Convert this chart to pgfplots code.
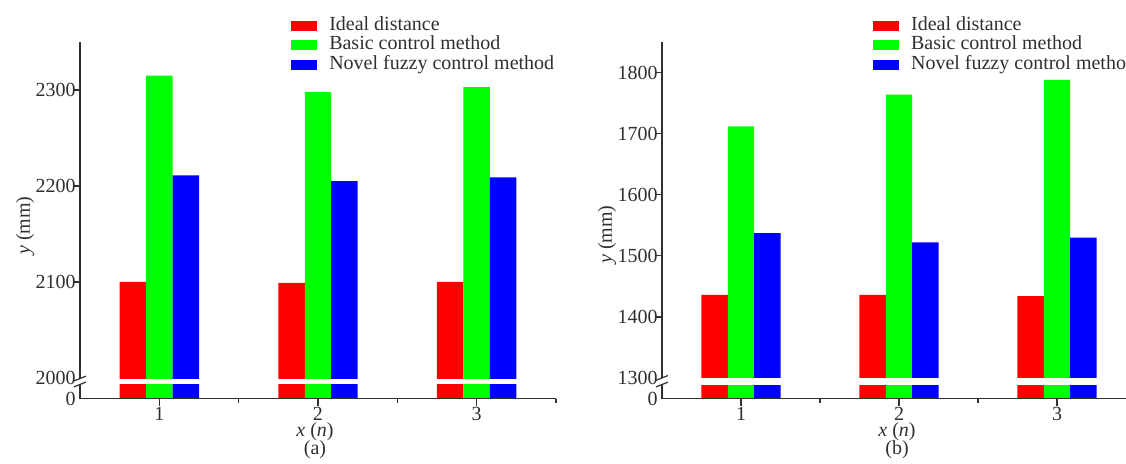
\documentclass[border=0pt]{standalone}
\usepackage{fontspec}
\setmainfont{Liberation Serif}
\usepackage{pgfplots}
\pgfplotsset{compat=1.18}
\definecolor{axc}{HTML}{303030}
\definecolor{cR}{RGB}{255,0,0}
\definecolor{cG}{RGB}{0,255,0}
\definecolor{cB}{RGB}{0,0,255}
\pgfplotsset{
  patch/.style={legend image code/.code={\fill[##1] (0pt,-2.5pt) rectangle (13pt,2.5pt);}},
  brk/.style={
    scale only axis, height=178.25pt,
    anchor=south west, clip=false,
    axis lines=left, axis line style={-, axc, line width=0.75pt},
    axis on top,
    xmin=0.5, xmax=3.5, ymin=0,
    xtick={1,2,3}, xticklabels={1,2,3}, minor xtick={1.5,2.5,3.5},
    tick align=inside, major tick length=3.5pt, minor tick length=2pt,
    tick style={axc, line width=0.6pt},
    ytick style={xshift=-3.5pt},
    extra y tick style={major tick style={draw=none}},
    ybar=0pt, bar width=0.1667,
    font=\fontsize{10}{12}\selectfont,
    /pgf/number format/assume math mode=true,
    tick label style={font=\fontsize{10}{12}\selectfont, text=axc},
    y tick label style={inner xsep=2pt},
    x tick label style={inner ysep=0pt, yshift=-0.9pt},
    xlabel={\textit{x} (\textit{n})},
    ylabel={\textit{y} (mm)},
    every axis x label/.style={at={(axis description cs:0.5,0)}, anchor=center, inner sep=0pt, yshift=-16.4pt, xshift=-1.5pt, text=axc},
    legend style={draw=none, fill=none, inner sep=0pt, row sep=0pt, column sep=6pt,
      at={(axis description cs:0.443,1.074)}, anchor=north west,
      nodes={inner sep=0pt, text height=7pt, text depth=2.75pt, text=axc},
      font=\fontsize{10}{12}\selectfont},
    legend cell align=left,
  }
}
\begin{document}
\begin{tikzpicture}
% ---------- panel (a)
\begin{axis}[brk, at={(40pt,32.25pt)}, width=238pt,
  ymax=371.4,
  y filter/.expression={y-1978.6},
  ytick={121.4,221.4,321.4}, yticklabels={2100,2200,2300},
  extra y ticks={0,21.4}, extra y tick labels={0,2000},
  every axis y label/.style={at={(axis description cs:0,0.485)}, rotate=90, anchor=center, yshift=27.5pt, text=axc},
]
\addplot[fill=cR, draw=none, patch] coordinates {(1,2100) (2,2099) (3,2100)};
\addplot[fill=cG, draw=none, patch] coordinates {(1,2315) (2,2298) (3,2303)};
\addplot[fill=cB, draw=none, patch] coordinates {(1,2211) (2,2205) (3,2209)};
\legend{Ideal distance, Basic control method, Novel fuzzy control method}
\coordinate (a1) at (axis cs:0.5,14.6);
\coordinate (a2) at (axis cs:0.5,20.8);
\coordinate (a3) at (axis cs:3.5,20.8);
\node[text=axc, inner sep=0pt, yshift=-25.5pt, xshift=-1.5pt] at (axis description cs:0.5,0) {(a)};
\end{axis}
\fill[white] ([xshift=-1pt]a1) rectangle (a3);
\draw[axc, line width=0.6pt] ([xshift=-3pt,yshift=-1.2pt]a1) -- ([xshift=3pt,yshift=1.2pt]a1);
\draw[axc, line width=0.6pt] ([xshift=-3pt,yshift=-1.2pt]a2) -- ([xshift=3pt,yshift=1.2pt]a2);
% ---------- panel (b)
\begin{axis}[brk, at={(331pt,32.25pt)}, width=237pt,
  ymax=583.5,
  y filter/.expression={y-1266.5},
  ytick={133.5,233.5,333.5,433.5,533.5}, yticklabels={1400,1500,1600,1700,1800},
  extra y ticks={0,33.5}, extra y tick labels={0,1300},
  legend style={at={(axis description cs:0.4445,1.074)}},
  every axis y label/.style={at={(axis description cs:0,0.46)}, rotate=90, anchor=center, yshift=27.5pt, text=axc},
  every axis x label/.style={at={(axis description cs:0.5,0)}, anchor=center, inner sep=0pt, yshift=-16.4pt, xshift=-1pt, text=axc},
]
\addplot[fill=cR, draw=none, patch] coordinates {(1,1436) (2,1436) (3,1434)};
\addplot[fill=cG, draw=none, patch] coordinates {(1,1712) (2,1764) (3,1788)};
\addplot[fill=cB, draw=none, patch] coordinates {(1,1537) (2,1522) (3,1530)};
\legend{Ideal distance, Basic control method, Novel fuzzy control method}
\coordinate (b1) at (axis cs:0.5,22.9);
\coordinate (b2) at (axis cs:0.5,33.7);
\coordinate (b3) at (axis cs:3.5,33.7);
\node[text=axc, inner sep=0pt, yshift=-25.5pt, xshift=-1pt] at (axis description cs:0.5,0) {(b)};
\end{axis}
\fill[white] ([xshift=-1pt]b1) rectangle (b3);
\draw[axc, line width=0.6pt] ([xshift=-3pt,yshift=-1.2pt]b1) -- ([xshift=3pt,yshift=1.2pt]b1);
\draw[axc, line width=0.6pt] ([xshift=-3pt,yshift=-1.2pt]b2) -- ([xshift=3pt,yshift=1.2pt]b2);
\pgfresetboundingbox
\useasboundingbox (0,0) rectangle (563pt,231.5pt);
\end{tikzpicture}
\end{document}
